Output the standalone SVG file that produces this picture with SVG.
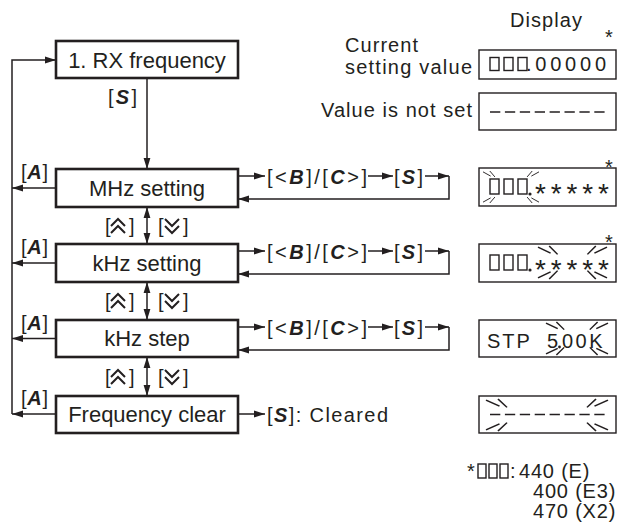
<svg xmlns="http://www.w3.org/2000/svg" width="626" height="523" viewBox="0 0 626 523">
<defs>
<style>
.box{fill:#fff;stroke:#231f20;stroke-width:2.6}
.lbl{font-family:"Liberation Sans",Arial,sans-serif;font-size:22px;fill:#231f20;text-anchor:middle}
.ln{fill:none;stroke:#231f20;stroke-width:1.5}
.key{font-family:"Liberation Sans",Arial,sans-serif;font-size:20px;fill:#231f20}
.bi{font-weight:bold;font-style:italic}
.disp{fill:#fff;stroke:#231f20;stroke-width:1.4}
.dig{fill:none;stroke:#231f20;stroke-width:1.4}
.ray{fill:none;stroke:#231f20;stroke-width:1.1}
.txt{font-family:"Liberation Sans",Arial,sans-serif;font-size:20px;fill:#231f20}
.ast{font-family:"Liberation Sans",Arial,sans-serif;font-size:28px;fill:#231f20}
.chev{fill:none;stroke:#231f20;stroke-width:2}
</style>
<marker id="ah" markerUnits="userSpaceOnUse" markerWidth="12" markerHeight="8" refX="11" refY="4" orient="auto-start-reverse"><path d="M0,0.6 L11,4 L0,7.4z" fill="#231f20"/></marker>
<path id="rp" d="M0,1 L9,6 M8,0 L14,7"/>
<path id="cu" d="M111,226 L118,219 L125,226 M111,233 L118,226 L125,233"/>
<path id="cd" d="M165,219 L172,226 L179,219 M165,226 L172,233 L179,226"/>
</defs>

<g id="connectors" class="ln">
<path d="M12,414 V60 H56" marker-end="url(#ah)"/>
<path d="M147,78 V169" marker-end="url(#ah)"/>
<path d="M56,188 H12" marker-end="url(#ah)"/>
<path d="M56,263 H12" marker-end="url(#ah)"/>
<path d="M56,338.5 H12" marker-end="url(#ah)"/>
<path d="M56,414 H12" marker-end="url(#ah)"/>
<path d="M147,207 V244" marker-start="url(#ah)" marker-end="url(#ah)"/>
<path d="M147,282 V320" marker-start="url(#ah)" marker-end="url(#ah)"/>
<path d="M147,357 V396" marker-start="url(#ah)" marker-end="url(#ah)"/>
<path d="M238,176 H265" marker-end="url(#ah)"/>
<path d="M368,176 H393" marker-end="url(#ah)"/>
<path d="M425,176 H449" marker-end="url(#ah)"/>
<path d="M449,176 V199 H238" marker-end="url(#ah)"/>
<path d="M238,251 H265" marker-end="url(#ah)"/>
<path d="M368,251 H393" marker-end="url(#ah)"/>
<path d="M425,251 H449" marker-end="url(#ah)"/>
<path d="M449,251 V274 H238" marker-end="url(#ah)"/>
<path d="M238,327 H265" marker-end="url(#ah)"/>
<path d="M368,327 H393" marker-end="url(#ah)"/>
<path d="M425,327 H449" marker-end="url(#ah)"/>
<path d="M449,327 V350 H238" marker-end="url(#ah)"/>
<path d="M238,414 H265" marker-end="url(#ah)"/>
</g>

<g id="connector-labels">
<text class="key" x="108" y="104" textLength="29">[<tspan class="bi">S</tspan>]</text>
<text class="key" x="21" y="179" textLength="27">[<tspan class="bi">A</tspan>]</text>
<text class="key" x="21" y="254" textLength="27">[<tspan class="bi">A</tspan>]</text>
<text class="key" x="21" y="330" textLength="27">[<tspan class="bi">A</tspan>]</text>
<text class="key" x="21" y="405" textLength="27">[<tspan class="bi">A</tspan>]</text>
<g id="updown1">
<text class="key" x="105" y="233">[</text><use href="#cu" class="chev"/><text class="key" x="129" y="233">]</text>
<text class="key" x="158" y="233">[</text><use href="#cd" class="chev"/><text class="key" x="183" y="233">]</text>
</g>
<g id="updown2" transform="translate(0,75)">
<text class="key" x="105" y="233">[</text><use href="#cu" class="chev"/><text class="key" x="129" y="233">]</text>
<text class="key" x="158" y="233">[</text><use href="#cd" class="chev"/><text class="key" x="183" y="233">]</text>
</g>
<g id="updown3" transform="translate(0,151)">
<text class="key" x="105" y="233">[</text><use href="#cu" class="chev"/><text class="key" x="129" y="233">]</text>
<text class="key" x="158" y="233">[</text><use href="#cd" class="chev"/><text class="key" x="183" y="233">]</text>
</g>
<text class="key" x="267" y="184" textLength="100">[&lt;<tspan class="bi">B</tspan>]/[<tspan class="bi">C</tspan>&gt;]</text>
<text class="key" x="394" y="184" textLength="29">[<tspan class="bi">S</tspan>]</text>
<text class="key" x="267" y="259" textLength="100">[&lt;<tspan class="bi">B</tspan>]/[<tspan class="bi">C</tspan>&gt;]</text>
<text class="key" x="394" y="259" textLength="29">[<tspan class="bi">S</tspan>]</text>
<text class="key" x="267" y="335" textLength="100">[&lt;<tspan class="bi">B</tspan>]/[<tspan class="bi">C</tspan>&gt;]</text>
<text class="key" x="394" y="335" textLength="29">[<tspan class="bi">S</tspan>]</text>
<text class="key" x="267" y="422" font-size="21" textLength="121">[<tspan class="bi">S</tspan>]: Cleared</text>
</g>

<g id="rx-frequency"><rect class="box" x="56" y="41" width="182" height="37"/><text class="lbl" x="147" y="68">1. RX frequency</text></g>
<g id="mhz-setting"><rect class="box" x="56" y="169" width="182" height="38"/><text class="lbl" x="147" y="196">MHz setting</text></g>
<g id="khz-setting"><rect class="box" x="56" y="244" width="182" height="38"/><text class="lbl" x="147" y="271">kHz setting</text></g>
<g id="khz-step"><rect class="box" x="56" y="320" width="182" height="37"/><text class="lbl" x="147" y="346">kHz step</text></g>
<g id="frequency-clear"><rect class="box" x="56" y="396" width="182" height="37"/><text class="lbl" x="147" y="422">Frequency clear</text></g>

<g id="display-header">
<text class="txt" x="510" y="27" font-size="19" textLength="72">Display</text>
<text class="txt" x="345" y="52" textLength="73">Current</text>
<text class="txt" x="345" y="74" textLength="127">setting value</text>
<text class="txt" x="321" y="117" textLength="151">Value is not set</text>
</g>

<g id="display-current">
<text class="txt" x="605" y="44" font-size="18">*</text>
<rect class="disp" x="479" y="50" width="137" height="29"/>
<rect class="dig" x="490" y="57.5" width="9" height="13"/><rect class="dig" x="504" y="57.5" width="9" height="13"/><rect class="dig" x="518" y="57.5" width="9" height="13"/>
<text class="txt" x="526" y="71" textLength="80">.00000</text>
</g>

<g id="display-notset">
<rect class="disp" x="479" y="93" width="137" height="37"/>
<path d="M490,112 H605" stroke="#231f20" stroke-width="1.6" stroke-dasharray="10.3 4.6"/>
</g>

<g id="display-mhz">
<text class="txt" x="605" y="174" font-size="18">*</text>
<rect class="disp" x="479" y="168" width="137" height="38"/>
<rect class="dig" x="490" y="179" width="9" height="15"/><rect class="dig" x="504" y="179" width="9" height="15"/><rect class="dig" x="518" y="179" width="9" height="15"/>
<circle cx="530" cy="194" r="1.6" fill="#231f20"/>
<text class="ast" x="535" y="203" textLength="74">*****</text>
<g class="ray">
<use href="#rp" transform="translate(483,171) scale(0.85)"/>
<use href="#rp" transform="translate(539,171) scale(-0.85,0.85)"/>
<use href="#rp" transform="translate(483,203) scale(0.85,-0.85)"/>
<use href="#rp" transform="translate(539,203) scale(-0.85,-0.85)"/>
</g>
</g>

<g id="display-khz">
<text class="txt" x="605" y="249" font-size="18">*</text>
<rect class="disp" x="479" y="244" width="137" height="38"/>
<rect class="dig" x="490" y="255" width="9" height="15"/><rect class="dig" x="504" y="255" width="9" height="15"/><rect class="dig" x="518" y="255" width="9" height="15"/>
<circle cx="530" cy="270" r="1.6" fill="#231f20"/>
<text class="ast" x="535" y="279" textLength="74">*****</text>
<g class="ray">
<use href="#rp" transform="translate(538,246) scale(1.4,1.2)"/>
<use href="#rp" transform="translate(607,246) scale(-1.4,1.2)"/>
<use href="#rp" transform="translate(538,279) scale(1.4,-1.2)"/>
<use href="#rp" transform="translate(607,279) scale(-1.4,-1.2)"/>
</g>
</g>

<g id="display-step">
<rect class="disp" x="479" y="320" width="137" height="37"/>
<text class="txt" x="487" y="348" letter-spacing="2">STP</text>
<text class="txt" x="547" y="348">5</text>
<circle cx="559.5" cy="347" r="1.4" fill="#231f20"/>
<text class="txt" x="562" y="348" letter-spacing="2.5">00K</text>
<g class="ray">
<use href="#rp" transform="translate(546,322) scale(1.3,1.1)"/>
<use href="#rp" transform="translate(608,322) scale(-1.3,1.1)"/>
<use href="#rp" transform="translate(546,355) scale(1.3,-1.1)"/>
<use href="#rp" transform="translate(608,355) scale(-1.3,-1.1)"/>
</g>
</g>

<g id="display-clear">
<rect class="disp" x="479" y="396" width="137" height="37"/>
<path d="M490,414.5 H605" stroke="#231f20" stroke-width="1.6" stroke-dasharray="10.3 4.6"/>
<g class="ray">
<use href="#rp" transform="translate(486,399) scale(1.5,1.2)"/>
<use href="#rp" transform="translate(608,399) scale(-1.5,1.2)"/>
<use href="#rp" transform="translate(486,431) scale(1.5,-1.2)"/>
<use href="#rp" transform="translate(608,431) scale(-1.5,-1.2)"/>
</g>
</g>

<g id="footnote">
<text class="txt" x="467" y="478">*</text>
<rect class="dig" x="478" y="464" width="8" height="14"/><rect class="dig" x="489" y="464" width="8" height="14"/><rect class="dig" x="500" y="464" width="8" height="14"/>
<text class="txt" x="510" y="478">:</text>
<text class="txt" x="519" y="478" letter-spacing="0.8">440 (E)</text>
<text class="txt" x="533" y="498" letter-spacing="0.8">400 (E3)</text>
<text class="txt" x="533" y="518" letter-spacing="0.8">470 (X2)</text>
</g>
</svg>
